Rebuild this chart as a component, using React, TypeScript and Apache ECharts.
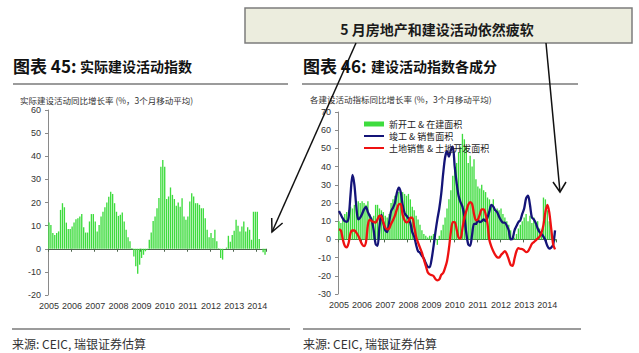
import React, { useEffect, useRef } from 'react';
import * as echarts from 'echarts';

const years = ['2005', '2006', '2007', '2008', '2009', '2010', '2011', '2012', '2013', '2014'];
const monthCount = 113;
const months: string[] = [];
for (const y of years) {
  for (let m = 1; m <= 12; m++) {
    if (months.length < monthCount) months.push(`${y}-${m < 10 ? '0' + m : m}`);
  }
}

// 图表 45: 实际建设活动指数 (%, 3mma)
const activityIndex = [
  11.3, 10.3, 6.8, 6.0, 6.8, 7.5, 16.8, 19.7, 18.0, 11.3, 8.5, 8.5,
  9.6, 11.3, 12.8, 13.2, 14.0, 15.0, 9.3, 7.0, 7.0, 11.8, 15.0, 15.0,
  11.8, 7.5, 10.3, 14.0, 16.0, 18.0, 20.0, 22.5, 24.6, 23.7, 19.7, 16.0,
  14.2, 14.7, 15.7, 11.8, 8.2, 5.0, 3.2, 0.3, -3.3, -7.6, -10.8, -6.9,
  -4.0, -2.6, -1.1, -0.4, 3.9, 7.0, 12.0, 14.0, 17.5, 22.0, 35.5, 38.4,
  35.5, 21.5, 22.6, 26.5, 23.3, 21.5, 18.6, 20.0, 18.2, 21.8, 14.0, 12.5,
  14.0, 20.4, 24.0, 22.6, 19.7, 19.7, 19.0, 17.5, 17.5, 13.2, 8.2, 5.0,
  6.8, 4.6, 8.2, 3.2, 0.2, -4.0, -4.7, 0.0, 0.5, 5.6, 3.0, 6.0,
  7.8, 12.5, 10.0, 7.5, 9.6, 11.8, 7.5, 9.3, 8.2, 3.9, 16.0, 16.0,
  16.0, 4.2, 0.0, -1.5, -2.6,
];

// 图表 46: 新开工 & 在建面积
const startsArea = [
  10, 9, 11, 14, 15, 16, 18, 17, 19, 20, 21, 20,
  21, 20, 19, 21, 14, 12, 13, 19, 19, 17, 16, 15,
  13, 12, 14, 20, 22, 24, 25, 26, 25, 26, 25, 24,
  25, 22, 18, 16, 13, 11, 8, 5, 3, 2, 1, 2,
  2, 3, 1, -3, 2, 5, 8, 12, 17, 22, 27, 35,
  38, 42, 48, 51, 58, 55, 51, 42, 46, 40, 44, 33,
  29, 28, 30, 27, 26, 23, 22, 18, 22, 15, 17, 16,
  17, 14, 12, 10, 8, 5, 2, 1, 3, 6, 8, 10,
  12, 14, 10, 13, 9, 12, 8, 10, 6, 4, 23, 22,
  16, 10, 6, 2, -1,
];

// 竣工 & 销售面积
const completionSales = [
  15.6, 13.5, 11.5, 10.0, 9.7, 12.0, 24.7, 35.5, 30.0, 18.0, 11.0, 12.0,
  14.0, 16.5, 17.8, 15.0, 12.8, 10.5, 5.0, -2.5, -3.5, 7.0, 13.5, 9.0,
  5.0, 4.0, 9.5, 15.5, 17.4, 20.0, 25.5, 28.4, 26.0, 19.0, 14.5, 13.0,
  11.5, 9.0, 4.0, 1.5, -3.0, -6.5, -7.3, -9.0, -10.5, -13.0, -15.0, -15.3,
  -11.0, -4.0, 4.0, 11.0, 17.0, 25.0, 36.0, 45.0, 48.5, 45.5, 49.0, 51.0,
  40.0, 31.0, 24.0, 20.5, 18.0, 12.5, 3.5, -2.7, -3.5, 2.5, 8.5, 8.5,
  10.5, 9.5, 10.0, 11.0, 10.0, 12.0, 15.5, 19.0, 18.0, 16.0, 15.0, 12.5,
  10.5, 9.2, 9.2, 7.5, 5.0, 0.0, 0.5, 5.0, 7.3, 9.5, 10.5, 14.0,
  17.0, 22.5, 24.0, 19.0, 12.0, 11.0, 9.0, 6.0, 4.0, 3.0, 1.5, -0.5,
  -3.5, -5.0, -4.5, -3.0, 5.0,
];

// 土地销售 & 土地开发面积
const landArea = [
  5.5, 5.0, 0.0, -3.5, -4.4, -2.0, 3.5, 4.9, 4.9, 3.7, 2.0, -0.5,
  -2.7, -3.7, -1.5, 8.0, 10.8, 10.0, 9.7, 9.2, 11.0, 13.0, 12.5, 9.5,
  6.5, 5.5, 6.0, 8.5, 10.5, 13.0, 16.5, 19.2, 19.5, 13.5, 10.5, 9.3,
  10.0, 11.9, 11.9, 7.0, 1.5, -1.8, -4.6, -7.3, -11.0, -14.5, -18.0, -19.2,
  -19.6, -20.1, -21.8, -22.5, -22.0, -19.5, -18.5, -15.6, -12.0, -5.0, 4.0, 9.5,
  9.5, 5.5, 1.0, 0.5, 6.0, 11.9, 15.6, 19.0, 20.5, 19.5, 14.0, 10.5,
  11.0, 13.7, 16.5, 16.5, 14.0, 8.5, -0.5, -4.0, -6.5, -8.5, -9.8, -10.0,
  -8.6, -7.5, -6.4, -8.0, -11.0, -14.0, -14.5, -10.5, -6.5, -4.8, -5.2, -5.3,
  -6.0, -7.0, -6.5, -4.6, -2.5, -1.5, -0.5, 0.5, 1.5, 3.7, 8.0, 15.0,
  19.0, 15.0, 6.0, -2.5, -5.5,
];

const seriesNames = ['新开工 & 在建面积', '竣工 & 销售面积', '土地销售 & 土地开发面积'];

const NUM_FONT = "'Liberation Sans', 'Noto Sans CJK SC', sans-serif";
const CJK_FONT = "'Noto Sans CJK SC', 'Liberation Sans', sans-serif";
const GREEN = '#3edc3e';
const NAVY = '#141478';
const RED = '#ee1111';
const ZERO_LINE = '#4f664f';

function xAxesFor(gridIndex: number) {
  return [
    {
      gridIndex,
      type: 'category',
      data: months,
      position: 'bottom',
      boundaryGap: true,
      axisLine: { show: true, onZero: true, lineStyle: { color: ZERO_LINE, width: 1 } },
      axisTick: { show: true, interval: (i: number) => i % 12 === 0, length: 3, lineStyle: { color: ZERO_LINE } },
      axisLabel: { show: false },
      splitLine: { show: false },
    },
    {
      gridIndex,
      type: 'category',
      data: months,
      position: 'bottom',
      boundaryGap: true,
      axisLine: { show: false, onZero: false },
      axisTick: { show: false },
      axisLabel: {
        interval: (i: number) => i % 12 === 0,
        formatter: (v: string) => v.slice(0, 4),
        fontSize: 9,
        fontFamily: NUM_FONT,
        color: '#333',
        margin: 6,
      },
      splitLine: { show: false },
    },
  ];
}

function yAxisFor(gridIndex: number, min: number, max: number) {
  return {
    gridIndex,
    type: 'value',
    min,
    max,
    interval: 10,
    axisLine: { show: true, lineStyle: { color: '#8a8a8a', width: 1 } },
    axisTick: { show: true, length: 3, lineStyle: { color: '#8a8a8a' } },
    axisLabel: { fontSize: 9, fontFamily: NUM_FONT, color: '#333', margin: 7 },
    splitLine: { show: false },
  };
}

export default function App() {
  const ref = useRef<HTMLDivElement>(null);
  useEffect(() => {
    if (!ref.current) return;
    const chart = echarts.init(ref.current, undefined, { renderer: 'svg' });
    const option: any = {
      animation: false,
      backgroundColor: '#ffffff',
      grid: [
        { left: 48, top: 110, width: 218, height: 185 },
        { left: 338, top: 112, width: 218, height: 182 },
      ],
      legend: {
        data: [
          { name: seriesNames[0], icon: 'rect' },
          { name: seriesNames[1], itemStyle: { opacity: 0 } },
          { name: seriesNames[2], itemStyle: { opacity: 0 } },
        ],
        orient: 'vertical',
        left: 358,
        top: 114,
        itemWidth: 20,
        itemHeight: 5,
        itemGap: 2,
        textStyle: { fontSize: 9, fontFamily: CJK_FONT, color: '#222', lineHeight: 10 },
      },
      xAxis: [...xAxesFor(0), ...xAxesFor(1)],
      yAxis: [yAxisFor(0, -20, 60), yAxisFor(1, -30, 70)],
      series: [
        {
          name: 'activity',
          type: 'bar',
          xAxisIndex: 0,
          yAxisIndex: 0,
          data: activityIndex,
          barWidth: '70%',
          itemStyle: { color: GREEN },
        },
        {
          name: seriesNames[0],
          type: 'bar',
          xAxisIndex: 2,
          yAxisIndex: 1,
          data: startsArea,
          barWidth: '70%',
          itemStyle: { color: GREEN },
        },
        {
          name: seriesNames[1],
          type: 'line',
          xAxisIndex: 2,
          yAxisIndex: 1,
          data: completionSales,
          symbol: 'none',
          smooth: 0.3,
          lineStyle: { color: NAVY, width: 2.3 },
          itemStyle: { color: NAVY },
        },
        {
          name: seriesNames[2],
          type: 'line',
          xAxisIndex: 2,
          yAxisIndex: 1,
          data: landArea,
          symbol: 'none',
          smooth: 0.3,
          lineStyle: { color: RED, width: 2.3 },
          itemStyle: { color: RED },
        },
      ],
      graphic: [
        // callout box
        {
          type: 'rect',
          z: 50,
          shape: { x: 245, y: 8, width: 387, height: 35 },
          style: { fill: '#ecedde', stroke: '#7c7c7c', lineWidth: 1.5 },
        },
        {
          type: 'text',
          z: 51,
          x: 437,
          y: 29,
          style: {
            text: '5 月房地产和建设活动依然疲软',
            font: `bold 14px ${CJK_FONT}`,
            fill: '#1a1a1a',
            textAlign: 'center',
            textVerticalAlign: 'middle',
            align: 'center',
            verticalAlign: 'middle',
          },
        },
        // left title
        {
          type: 'text',
          x: 13,
          y: 65,
          style: { text: '图表 45:', font: `bold 17px ${CJK_FONT}`, fill: '#111', textVerticalAlign: 'middle', verticalAlign: 'middle' },
        },
        {
          type: 'text',
          x: 80,
          y: 66,
          style: { text: '实际建设活动指数', font: `bold 14px ${CJK_FONT}`, fill: '#111', textVerticalAlign: 'middle', verticalAlign: 'middle' },
        },
        {
          type: 'line',
          shape: { x1: 13, y1: 84, x2: 288, y2: 84 },
          style: { stroke: '#7a7a7a', lineWidth: 1.5 },
        },
        {
          type: 'text',
          x: 20,
          y: 99.5,
          style: { text: '实际建设活动同比增长率 (%，3个月移动平均)', font: `8.5px ${CJK_FONT}`, fill: '#333', textVerticalAlign: 'middle', verticalAlign: 'middle' },
        },
        // right title
        {
          type: 'text',
          x: 303,
          y: 65,
          style: { text: '图表 46:', font: `bold 17px ${CJK_FONT}`, fill: '#111', textVerticalAlign: 'middle', verticalAlign: 'middle' },
        },
        {
          type: 'text',
          x: 371,
          y: 66,
          style: { text: '建设活动指数各成分', font: `bold 14px ${CJK_FONT}`, fill: '#111', textVerticalAlign: 'middle', verticalAlign: 'middle' },
        },
        {
          type: 'line',
          shape: { x1: 302, y1: 84, x2: 578, y2: 84 },
          style: { stroke: '#7a7a7a', lineWidth: 1.5 },
        },
        {
          type: 'text',
          x: 310,
          y: 99,
          style: { text: '各建设活动指标同比增长率 (%，3个月移动平均)', font: `8.5px ${CJK_FONT}`, fill: '#333', textVerticalAlign: 'middle', verticalAlign: 'middle' },
        },
        // bottom rules and sources
        {
          type: 'line',
          shape: { x1: 12, y1: 329, x2: 290, y2: 329 },
          style: { stroke: '#7a7a7a', lineWidth: 1.5 },
        },
        {
          type: 'line',
          shape: { x1: 303, y1: 329, x2: 581, y2: 329 },
          style: { stroke: '#7a7a7a', lineWidth: 1.5 },
        },
        {
          type: 'text',
          x: 12,
          y: 343,
          style: { text: '来源: CEIC, 瑞银证券估算', font: `12px ${CJK_FONT}`, fill: '#333', textVerticalAlign: 'middle', verticalAlign: 'middle' },
        },
        {
          type: 'text',
          x: 303,
          y: 343,
          style: { text: '来源: CEIC, 瑞银证券估算', font: `12px ${CJK_FONT}`, fill: '#333', textVerticalAlign: 'middle', verticalAlign: 'middle' },
        },
        // arrows
        {
          type: 'line',
          z: 60,
          shape: { x1: 356, y1: 43, x2: 272, y2: 232 },
          style: { stroke: '#111', lineWidth: 1.5 },
        },
        {
          type: 'polyline',
          z: 60,
          shape: { points: [[271.7, 218], [272, 232], [282.6, 223]] },
          style: { stroke: '#111', lineWidth: 1.5, fill: 'none' },
        },
        {
          type: 'line',
          z: 60,
          shape: { x1: 546, y1: 43, x2: 560, y2: 192 },
          style: { stroke: '#111', lineWidth: 1.5 },
        },
        {
          type: 'polyline',
          z: 60,
          shape: { points: [[553, 182], [560, 192], [566, 182]] },
          style: { stroke: '#111', lineWidth: 1.5, fill: 'none' },
        },
      ],
    };
    chart.setOption(option);
    return () => chart.dispose();
  }, []);
  return (
    <div
      ref={ref}
      style={{ position: 'fixed', left: 0, top: 0, width: 639, height: 353, background: '#fff' }}
    />
  );
}
